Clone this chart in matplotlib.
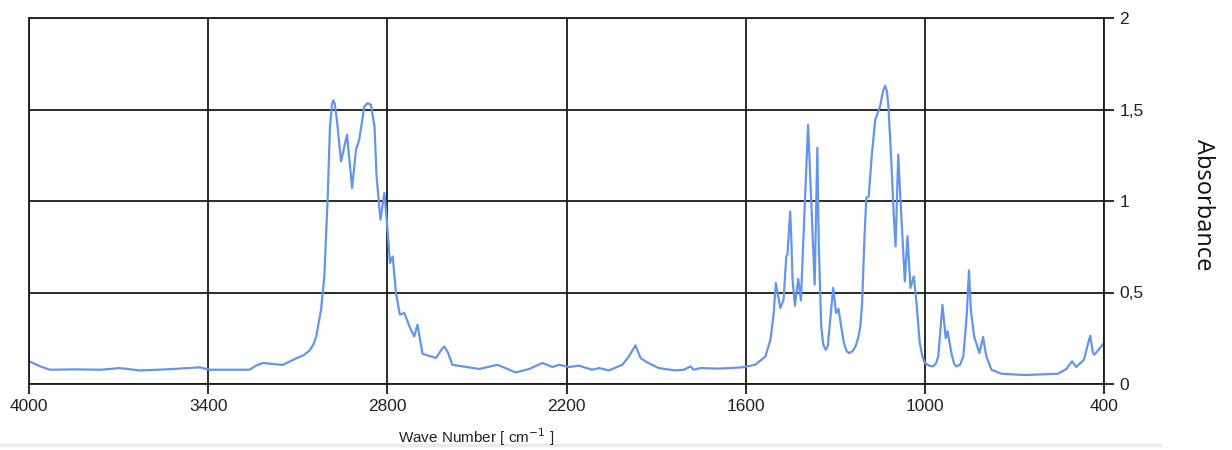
import matplotlib.pyplot as plt
from matplotlib.ticker import FuncFormatter

# IR spectrum, wave number (cm-1) vs absorbance
wave_number = [
    4000, 3960, 3930, 3850, 3760, 3696, 3629, 3540, 3428, 3395, 3261, 3240, 3217, 3151,
    3105, 3080, 3061, 3048, 3038, 3022, 3011, 3000, 2992, 2985, 2981, 2976, 2969, 2955,
    2935, 2918, 2905, 2894, 2877, 2866, 2855, 2843, 2836, 2823, 2810, 2802, 2791, 2782,
    2771, 2758, 2743, 2726, 2710, 2699, 2682, 2654, 2637, 2618, 2609, 2598, 2582, 2492,
    2431, 2370, 2325, 2281, 2247, 2225, 2192, 2158, 2114, 2091, 2058, 2013,
    1991, 1969, 1952, 1930, 1891, 1836, 1807, 1785, 1774, 1751, 1690, 1612,
    1568, 1534, 1517, 1506, 1499, 1484, 1473, 1464, 1460, 1451, 1447, 1443,
    1435, 1424, 1415, 1404, 1391, 1382, 1369, 1360, 1355, 1347, 1340, 1332, 1325, 1321,
    1307, 1297, 1289, 1282, 1271, 1262, 1254, 1243, 1232, 1222, 1216, 1210, 1202, 1196, 1188,
    1177, 1166, 1150, 1140, 1133, 1127, 1122, 1113, 1105, 1098, 1089, 1081, 1067, 1058,
    1048, 1037, 1028, 1017, 1008, 1000, 985, 972, 962, 955, 941, 930, 924, 911, 902, 894,
    882, 871, 860, 852, 846, 835, 817, 805, 794, 777, 743, 665, 554,
    526, 507, 493, 467, 456, 446, 437, 432, 400,
]
absorbance = [
    0.124, 0.095, 0.078, 0.080, 0.078, 0.087, 0.074, 0.080, 0.091, 0.078, 0.078, 0.100, 0.115, 0.104,
    0.140, 0.158, 0.182, 0.215, 0.260, 0.406, 0.588, 1.007, 1.408, 1.530, 1.550, 1.530, 1.444, 1.216,
    1.362, 1.071, 1.280, 1.335, 1.517, 1.535, 1.526, 1.408, 1.134, 0.898, 1.044, 0.898, 0.661, 0.697,
    0.497, 0.379, 0.388, 0.315, 0.260, 0.324, 0.165, 0.151, 0.142, 0.190, 0.205, 0.175, 0.105, 0.082,
    0.105, 0.063, 0.082, 0.115, 0.093, 0.105, 0.093, 0.100, 0.078, 0.087, 0.074, 0.105,
    0.151, 0.211, 0.142, 0.118, 0.087, 0.074, 0.078, 0.096, 0.078, 0.087, 0.084, 0.091,
    0.105, 0.150, 0.242, 0.388, 0.552, 0.415, 0.461, 0.697, 0.707, 0.943, 0.789, 0.570,
    0.428, 0.574, 0.457, 0.898, 1.417, 1.062, 0.543, 1.290, 0.752, 0.315, 0.215, 0.187, 0.205, 0.279,
    0.525, 0.388, 0.410, 0.333, 0.224, 0.180, 0.169, 0.178, 0.205, 0.260, 0.315, 0.443, 0.807, 1.016, 1.025,
    1.262, 1.444, 1.517, 1.600, 1.630, 1.600, 1.517, 1.244, 0.952, 0.752, 1.253, 0.989, 0.561, 0.807,
    0.525, 0.588, 0.443, 0.224, 0.150, 0.115, 0.100, 0.096, 0.115, 0.151, 0.433, 0.251, 0.288, 0.169, 0.110, 0.096,
    0.105, 0.151, 0.369, 0.621, 0.406, 0.260, 0.169, 0.257, 0.151, 0.078, 0.056, 0.049, 0.056,
    0.082, 0.124, 0.093, 0.133, 0.205, 0.264, 0.169, 0.160, 0.224,
]

x_ticks = [4000, 3400, 2800, 2200, 1600, 1000, 400]
y_ticks = [0, 0.5, 1, 1.5, 2]

fig = plt.figure(figsize=(12.32, 4.5), dpi=100)
ax = fig.add_axes([29 / 1232, 66 / 450, 1075 / 1232, 366 / 450])

ax.plot(wave_number, absorbance, color="#6495ED", linewidth=1.6, solid_joinstyle="round")

ax.set_xlim(4000, 400)
ax.set_ylim(0, 2)
ax.set_xticks(x_ticks)
ax.set_yticks(y_ticks)
ax.yaxis.tick_right()
ax.yaxis.set_major_formatter(FuncFormatter(lambda v, p: f"{v:g}".replace(".", ",")))
ax.grid(True, color="#1a1a1a", linewidth=1.3)
ax.tick_params(axis="both", direction="out", length=7, width=1.3, color="#1a1a1a",
               labelsize=12.5, pad=4)
for lbl in ax.get_xticklabels() + ax.get_yticklabels():
    lbl.set_family("Liberation Sans")
    lbl.set_color("#222222")
for s in ax.spines.values():
    s.set_color("#1a1a1a")
    s.set_linewidth(1.3)

fig.text(476 / 1232, 1 - 437 / 450, r"Wave Number [ cm$^{-1}$ ]", ha="center", va="center",
         fontsize=11, family="Liberation Sans", color="#222222")
fig.text(1203 / 1232, 1 - 205 / 450, "Absorbance", rotation=270, ha="center", va="center",
         fontsize=17, family="Open Sans", color="#111111")

# light separator under the chart
fig.add_artist(plt.Line2D([0, 1160 / 1232], [1 - 445 / 450] * 2, color="#ebebeb",
                          linewidth=2.5, transform=fig.transFigure))

fig.savefig("out.png", dpi=100)
